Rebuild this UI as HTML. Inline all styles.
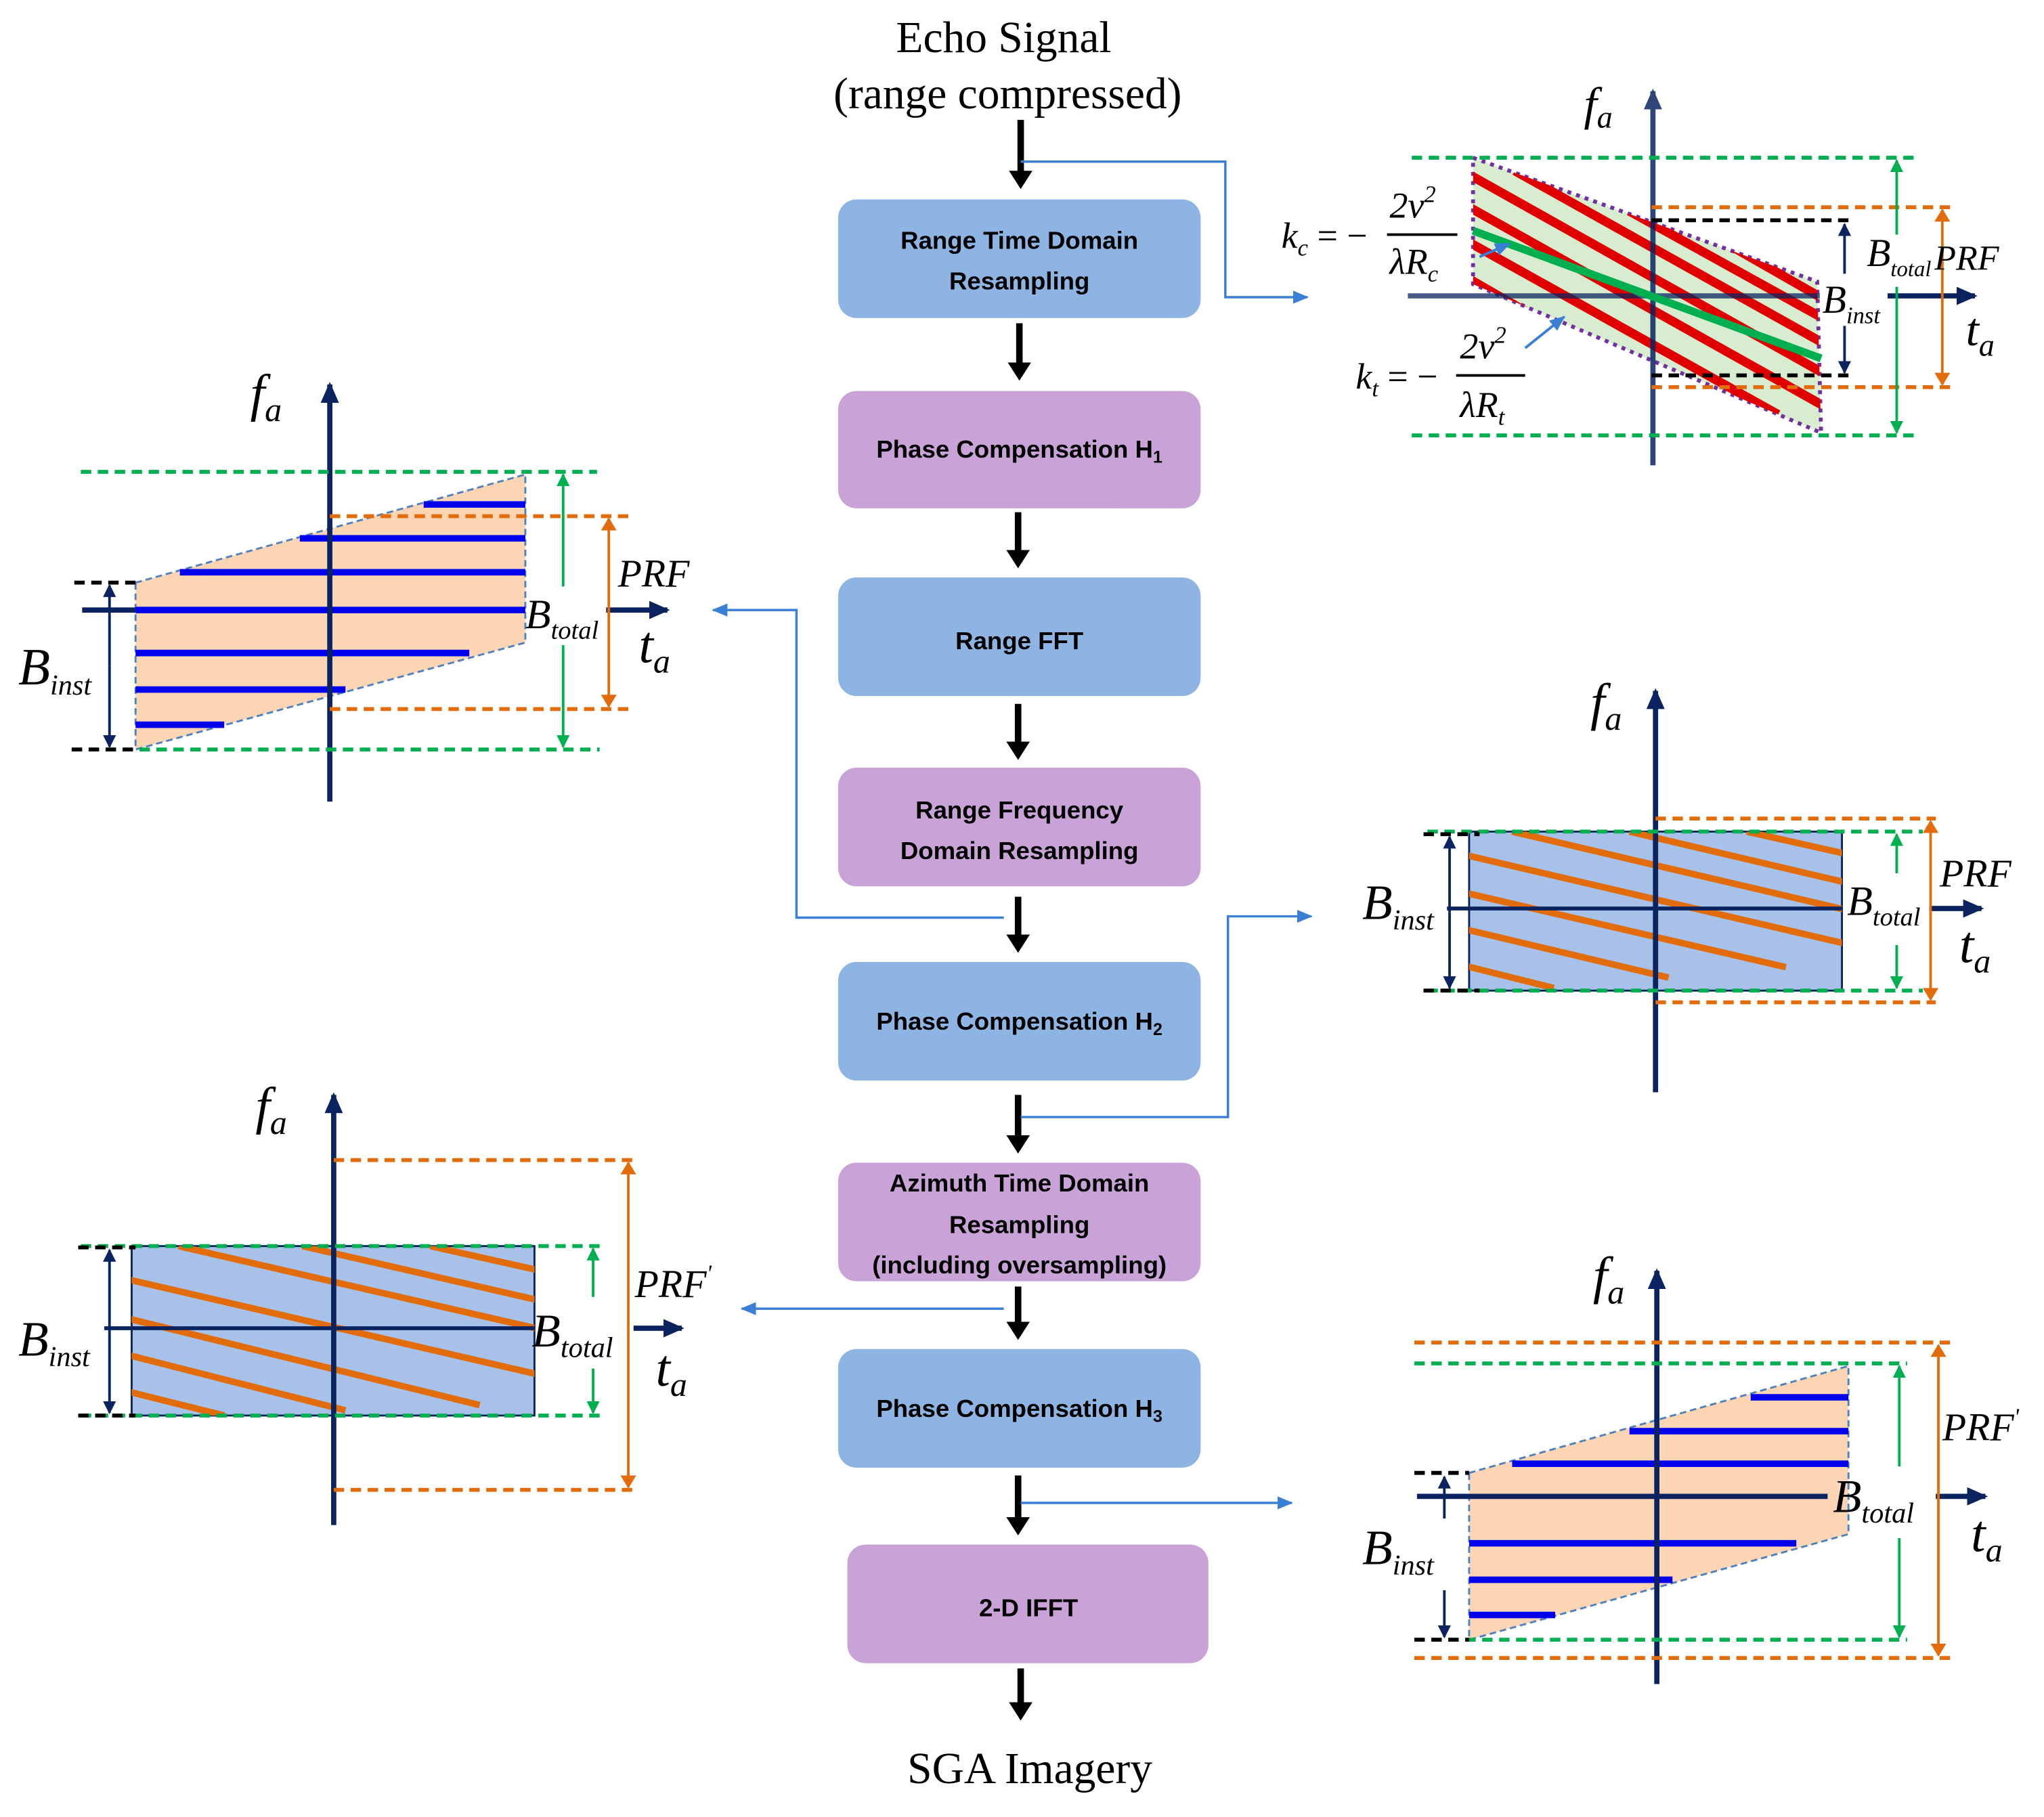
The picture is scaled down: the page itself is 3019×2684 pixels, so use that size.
<!DOCTYPE html>
<html><head><meta charset="utf-8"><style>
html,body{margin:0;padding:0;background:#fff}
svg{display:block}
.bt{font-family:"Liberation Sans",sans-serif;font-weight:bold;font-size:19px;fill:#000;text-anchor:middle}
.lb{font-family:"Liberation Serif",serif;font-style:italic;fill:#000}
.tt{font-family:"Liberation Serif",serif;font-size:34px;fill:#000;text-anchor:middle}
</style></head><body>
<svg width="3019" height="2684" viewBox="0 0 1568 1394" xmlns="http://www.w3.org/2000/svg">
<defs>
<marker id="abl" markerWidth="12" markerHeight="10" refX="11" refY="5" orient="auto" markerUnits="userSpaceOnUse"><path d="M0,0L12,5L0,10z" fill="#3a7fd5"/></marker>
<marker id="an" markerWidth="16" markerHeight="14" refX="14" refY="7" orient="auto" markerUnits="userSpaceOnUse"><path d="M0,0L16,7L0,14z" fill="#0b2460"/></marker>
<marker id="asn" markerWidth="10" markerHeight="10" refX="9" refY="5" orient="auto" markerUnits="userSpaceOnUse"><path d="M0,0L10,5L0,10z" fill="#0b2460"/></marker>
<marker id="ag" markerWidth="10" markerHeight="10" refX="9" refY="5" orient="auto" markerUnits="userSpaceOnUse"><path d="M0,0L10,5L0,10z" fill="#00b050"/></marker>
<marker id="ao" markerWidth="10" markerHeight="12" refX="9" refY="6" orient="auto" markerUnits="userSpaceOnUse"><path d="M0,0L10,6L0,12z" fill="#e36c0a"/></marker>
<marker id="ak" markerWidth="24" markerHeight="18" refX="4" refY="9" orient="auto" markerUnits="userSpaceOnUse"><path d="M0,0L14,9L0,18z" fill="#000"/></marker>
<clipPath id="c1"><polygon points="1130,121 1394,216 1397,332 1130,218"/></clipPath>
<clipPath id="c2"><rect x="1127" y="638" width="286" height="122"/></clipPath>
<clipPath id="c3"><rect x="101" y="956" width="309" height="130"/></clipPath>
</defs>

<text class="tt" x="770" y="40">Echo Signal</text>
<text class="tt" x="773" y="83">(range compressed)</text>
<text class="tt" x="790" y="1368">SGA Imagery</text>

<g>
<rect x="643" y="153" width="278" height="91" rx="14" fill="#8db4e2"/>
<text class="bt" x="782" y="191">Range Time Domain</text><text class="bt" x="782" y="222">Resampling</text>
<rect x="643" y="300" width="278" height="90" rx="14" fill="#c9a3d8"/>
<text class="bt" x="782" y="351">Phase Compensation H<tspan font-size="13" dy="4">1</tspan></text>
<rect x="643" y="443" width="278" height="91" rx="14" fill="#8db4e2"/>
<text class="bt" x="782" y="498" font-size="24">Range FFT</text>
<rect x="643" y="589" width="278" height="91" rx="14" fill="#c9a3d8"/>
<text class="bt" x="782" y="628">Range Frequency</text><text class="bt" x="782" y="659">Domain Resampling</text>
<rect x="643" y="738" width="278" height="91" rx="14" fill="#8db4e2"/>
<text class="bt" x="782" y="790">Phase Compensation H<tspan font-size="13" dy="4">2</tspan></text>
<rect x="643" y="892" width="278" height="91" rx="14" fill="#c9a3d8"/>
<text class="bt" x="782" y="914">Azimuth Time Domain</text><text class="bt" x="782" y="946">Resampling</text><text class="bt" x="782" y="977">(including oversampling)</text>
<rect x="643" y="1035" width="278" height="91" rx="14" fill="#8db4e2"/>
<text class="bt" x="782" y="1087">Phase Compensation H<tspan font-size="13" dy="4">3</tspan></text>
<rect x="650" y="1185" width="277" height="91" rx="14" fill="#c9a3d8"/>
<text class="bt" x="789" y="1240" font-size="24">2-D IFFT</text>
</g>

<g stroke="#000" stroke-width="5" marker-end="url(#ak)">
<line x1="783" y1="92" x2="783" y2="135"/>
<line x1="782" y1="248" x2="782" y2="282"/>
<line x1="781" y1="393" x2="781" y2="426"/>
<line x1="781" y1="540" x2="781" y2="573"/>
<line x1="781" y1="688" x2="781" y2="721"/>
<line x1="781" y1="840" x2="781" y2="875"/>
<line x1="781" y1="987" x2="781" y2="1018"/>
<line x1="781" y1="1132" x2="781" y2="1168"/>
<line x1="783" y1="1280" x2="783" y2="1310"/>
</g>

<g stroke="#3a7fd5" stroke-width="1.8" fill="none">
<polyline points="783,124 940,124 940,228 1003,228" marker-end="url(#abl)"/>
<polyline points="770,704 611,704 611,468 547,468" marker-end="url(#abl)"/>
<polyline points="783,857 942,857 942,703 1006,703" marker-end="url(#abl)"/>
<polyline points="770,1004 569,1004" marker-end="url(#abl)"/>
<polyline points="783,1153 991,1153" marker-end="url(#abl)"/>
</g>

<g>
<polygon points="1130,121 1394,216 1397,332 1130,218" fill="#d8ecd0" stroke="#7030a0" stroke-width="3" stroke-dasharray="3,4"/>
<g clip-path="url(#c1)" stroke="#e00000" stroke-width="7">
<line x1="1162" y1="131" x2="1400" y2="264"/>
<line x1="1120" y1="130" x2="1400" y2="287"/>
<line x1="1120" y1="155" x2="1400" y2="312"/>
<line x1="1120" y1="182" x2="1364" y2="318"/>
<line x1="1120" y1="210" x2="1200" y2="256"/>
<line x1="1250" y1="162" x2="1400" y2="245"/>
<line x1="1330" y1="190" x2="1400" y2="230"/>
</g>
<line x1="1080" y1="227" x2="1396" y2="227" stroke="#0b2460" stroke-width="4" opacity="0.75"/>
<line x1="1448" y1="227" x2="1515" y2="227" stroke="#0b2460" stroke-width="4" marker-end="url(#an)"/>
<line x1="1268" y1="357" x2="1268" y2="70" stroke="#0b2460" stroke-width="4" marker-end="url(#an)" opacity="0.85"/>
<line x1="1130" y1="177" x2="1397" y2="275" stroke="#00b050" stroke-width="6"/>
<g stroke-dasharray="8,5" stroke-width="3" fill="none">
<line x1="1083" y1="121" x2="1470" y2="121" stroke="#00b050"/>
<line x1="1083" y1="334" x2="1470" y2="334" stroke="#00b050"/>
<line x1="1267" y1="159" x2="1497" y2="159" stroke="#e36c0a"/>
<line x1="1267" y1="297" x2="1497" y2="297" stroke="#e36c0a"/>
<line x1="1267" y1="169" x2="1418" y2="169" stroke="#000"/>
<line x1="1267" y1="288" x2="1418" y2="288" stroke="#000"/>
</g>
<line x1="1415" y1="210" x2="1415" y2="172" stroke="#0b2460" stroke-width="2" marker-end="url(#asn)"/>
<line x1="1415" y1="250" x2="1415" y2="286" stroke="#0b2460" stroke-width="2" marker-end="url(#asn)"/>
<line x1="1455" y1="180" x2="1455" y2="123" stroke="#00b050" stroke-width="2" marker-end="url(#ag)"/>
<line x1="1455" y1="220" x2="1455" y2="332" stroke="#00b050" stroke-width="2" marker-end="url(#ag)"/>
<line x1="1490" y1="228" x2="1490" y2="161" stroke="#e36c0a" stroke-width="2" marker-end="url(#ao)"/>
<line x1="1490" y1="228" x2="1490" y2="295" stroke="#e36c0a" stroke-width="2" marker-end="url(#ao)"/>
<line x1="1135" y1="197" x2="1158" y2="187" stroke="#3a7fd5" stroke-width="2" marker-end="url(#abl)"/>
<line x1="1170" y1="267" x2="1200" y2="243" stroke="#3a7fd5" stroke-width="2" marker-end="url(#abl)"/>
<text class="lb" x="1215" y="92" font-size="36">f<tspan font-size="24" dy="6">a</tspan></text>
<text class="lb" x="1432" y="204" font-size="30">B<tspan font-size="17" dy="8">total</tspan></text>
<text class="lb" x="1484" y="207" font-size="27">PRF</text>
<text class="lb" x="1398" y="240" font-size="30">B<tspan font-size="18" dy="8">inst</tspan></text>
<text class="lb" x="1508" y="265" font-size="36">t<tspan font-size="24" dy="8">a</tspan></text>
<text class="lb" x="983" y="190" font-size="28">k<tspan font-size="18" dy="6">c</tspan><tspan font-style="normal" dy="-6"> = −</tspan></text>
<text class="lb" x="1066" y="167" font-size="28">2v<tspan font-size="18" dy="-12">2</tspan></text>
<line x1="1064" y1="180" x2="1118" y2="180" stroke="#000" stroke-width="2"/>
<text class="lb" x="1066" y="210" font-size="28">λR<tspan font-size="18" dy="6">c</tspan></text>
<text class="lb" x="1040" y="298" font-size="28">k<tspan font-size="18" dy="6">t</tspan><tspan font-style="normal" dy="-6"> = −</tspan></text>
<text class="lb" x="1120" y="275" font-size="28">2v<tspan font-size="18" dy="-12">2</tspan></text>
<line x1="1117" y1="288" x2="1170" y2="288" stroke="#000" stroke-width="2"/>
<text class="lb" x="1120" y="320" font-size="28">λR<tspan font-size="18" dy="6">t</tspan></text>
</g>

<g>
<polygon points="104,447 403,364 403,493 104,575" fill="#fcd5b5" stroke="#4f81bd" stroke-width="1.5" stroke-dasharray="5,3"/>
<g stroke="#0000ee" stroke-width="5">
<line x1="325" y1="387" x2="403" y2="387"/>
<line x1="230" y1="413" x2="403" y2="413"/>
<line x1="138" y1="439" x2="403" y2="439"/>
<line x1="104" y1="468" x2="403" y2="468"/>
<line x1="104" y1="501" x2="360" y2="501"/>
<line x1="104" y1="529" x2="265" y2="529"/>
<line x1="104" y1="556" x2="172" y2="556"/>
</g>
<line x1="63" y1="468" x2="104" y2="468" stroke="#0b2460" stroke-width="4"/>
<line x1="465" y1="468" x2="512" y2="468" stroke="#0b2460" stroke-width="4" marker-end="url(#an)"/>
<line x1="253" y1="615" x2="253" y2="295" stroke="#0b2460" stroke-width="4" marker-end="url(#an)"/>
<g stroke-dasharray="8,5" stroke-width="3">
<line x1="62" y1="362" x2="458" y2="362" stroke="#00b050"/>
<line x1="55" y1="575" x2="460" y2="575" stroke="#00b050"/>
<line x1="253" y1="396" x2="485" y2="396" stroke="#e36c0a"/>
<line x1="253" y1="544" x2="485" y2="544" stroke="#e36c0a"/>
<line x1="57" y1="447" x2="104" y2="447" stroke="#000"/>
<line x1="55" y1="575" x2="104" y2="575" stroke="#000"/>
</g>
<line x1="84" y1="511" x2="84" y2="449" stroke="#0b2460" stroke-width="2" marker-end="url(#asn)"/>
<line x1="84" y1="511" x2="84" y2="573" stroke="#0b2460" stroke-width="2" marker-end="url(#asn)"/>
<line x1="432" y1="450" x2="432" y2="364" stroke="#00b050" stroke-width="2" marker-end="url(#ag)"/>
<line x1="432" y1="495" x2="432" y2="573" stroke="#00b050" stroke-width="2" marker-end="url(#ag)"/>
<line x1="467" y1="470" x2="467" y2="398" stroke="#e36c0a" stroke-width="2" marker-end="url(#ao)"/>
<line x1="467" y1="470" x2="467" y2="542" stroke="#e36c0a" stroke-width="2" marker-end="url(#ao)"/>
<text class="lb" x="192" y="315" font-size="40">f<tspan font-size="26" dy="8">a</tspan></text>
<text class="lb" x="474" y="450" font-size="30">PRF</text>
<text class="lb" x="403" y="482" font-size="32">B<tspan font-size="20" dy="8">total</tspan></text>
<text class="lb" x="490" y="508" font-size="40">t<tspan font-size="26" dy="8">a</tspan></text>
<text class="lb" x="14" y="525" font-size="40">B<tspan font-size="22" dy="8">inst</tspan></text>
</g>

<g>
<rect x="1127" y="638" width="286" height="122" fill="#a7c1e8" stroke="#0b2460" stroke-width="1.5"/>
<g clip-path="url(#c2)" stroke="#e36c0a" stroke-width="5">
<line x1="1340" y1="638" x2="1420" y2="656"/>
<line x1="1250" y1="638" x2="1420" y2="678"/>
<line x1="1160" y1="638" x2="1420" y2="699"/>
<line x1="1120" y1="655" x2="1420" y2="725"/>
<line x1="1120" y1="684" x2="1370" y2="742"/>
<line x1="1120" y1="712" x2="1280" y2="750"/>
<line x1="1120" y1="740" x2="1192" y2="758"/>
</g>
<line x1="1110" y1="697" x2="1413" y2="697" stroke="#0b2460" stroke-width="3"/>
<line x1="1480" y1="697" x2="1520" y2="697" stroke="#0b2460" stroke-width="4" marker-end="url(#an)"/>
<line x1="1270" y1="838" x2="1270" y2="530" stroke="#0b2460" stroke-width="4" marker-end="url(#an)"/>
<g stroke-dasharray="8,5" stroke-width="3">
<line x1="1095" y1="638" x2="1475" y2="638" stroke="#00b050"/>
<line x1="1095" y1="760" x2="1475" y2="760" stroke="#00b050"/>
<line x1="1270" y1="628" x2="1485" y2="628" stroke="#e36c0a"/>
<line x1="1270" y1="769" x2="1485" y2="769" stroke="#e36c0a"/>
<line x1="1092" y1="640" x2="1135" y2="640" stroke="#000"/>
<line x1="1092" y1="760" x2="1135" y2="760" stroke="#000"/>
</g>
<line x1="1112" y1="700" x2="1112" y2="642" stroke="#0b2460" stroke-width="2" marker-end="url(#asn)"/>
<line x1="1112" y1="700" x2="1112" y2="758" stroke="#0b2460" stroke-width="2" marker-end="url(#asn)"/>
<line x1="1455" y1="670" x2="1455" y2="640" stroke="#00b050" stroke-width="2" marker-end="url(#ag)"/>
<line x1="1455" y1="725" x2="1455" y2="758" stroke="#00b050" stroke-width="2" marker-end="url(#ag)"/>
<line x1="1481" y1="700" x2="1481" y2="630" stroke="#e36c0a" stroke-width="2" marker-end="url(#ao)"/>
<line x1="1481" y1="700" x2="1481" y2="767" stroke="#e36c0a" stroke-width="2" marker-end="url(#ao)"/>
<text class="lb" x="1220" y="552" font-size="40">f<tspan font-size="26" dy="8">a</tspan></text>
<text class="lb" x="1045" y="705" font-size="38">B<tspan font-size="22" dy="8">inst</tspan></text>
<text class="lb" x="1417" y="702" font-size="32">B<tspan font-size="20" dy="8">total</tspan></text>
<text class="lb" x="1488" y="680" font-size="30">PRF</text>
<text class="lb" x="1503" y="738" font-size="40">t<tspan font-size="26" dy="8">a</tspan></text>
</g>

<g>
<rect x="101" y="956" width="309" height="130" fill="#a7c1e8" stroke="#0b2460" stroke-width="1.5"/>
<g clip-path="url(#c3)" stroke="#e36c0a" stroke-width="5">
<line x1="330" y1="956" x2="415" y2="975"/>
<line x1="232" y1="956" x2="415" y2="998"/>
<line x1="137" y1="956" x2="415" y2="1020"/>
<line x1="100" y1="982" x2="415" y2="1055"/>
<line x1="100" y1="1012" x2="368" y2="1078"/>
<line x1="100" y1="1040" x2="265" y2="1082"/>
<line x1="100" y1="1068" x2="172" y2="1086"/>
</g>
<line x1="80" y1="1019" x2="410" y2="1019" stroke="#0b2460" stroke-width="3"/>
<line x1="486" y1="1019" x2="523" y2="1019" stroke="#0b2460" stroke-width="4" marker-end="url(#an)"/>
<line x1="256" y1="1170" x2="256" y2="840" stroke="#0b2460" stroke-width="4" marker-end="url(#an)"/>
<g stroke-dasharray="8,5" stroke-width="3">
<line x1="62" y1="956" x2="460" y2="956" stroke="#00b050"/>
<line x1="62" y1="1086" x2="460" y2="1086" stroke="#00b050"/>
<line x1="256" y1="890" x2="486" y2="890" stroke="#e36c0a"/>
<line x1="256" y1="1143" x2="486" y2="1143" stroke="#e36c0a"/>
<line x1="60" y1="957" x2="104" y2="957" stroke="#000"/>
<line x1="60" y1="1086" x2="104" y2="1086" stroke="#000"/>
</g>
<line x1="84" y1="1020" x2="84" y2="959" stroke="#0b2460" stroke-width="2" marker-end="url(#asn)"/>
<line x1="84" y1="1020" x2="84" y2="1084" stroke="#0b2460" stroke-width="2" marker-end="url(#asn)"/>
<line x1="455" y1="995" x2="455" y2="958" stroke="#00b050" stroke-width="2" marker-end="url(#ag)"/>
<line x1="455" y1="1050" x2="455" y2="1084" stroke="#00b050" stroke-width="2" marker-end="url(#ag)"/>
<line x1="482" y1="1019" x2="482" y2="892" stroke="#e36c0a" stroke-width="2" marker-end="url(#ao)"/>
<line x1="482" y1="1019" x2="482" y2="1141" stroke="#e36c0a" stroke-width="2" marker-end="url(#ao)"/>
<text class="lb" x="196" y="862" font-size="40">f<tspan font-size="26" dy="8">a</tspan></text>
<text class="lb" x="14" y="1040" font-size="38">B<tspan font-size="22" dy="8">inst</tspan></text>
<text class="lb" x="408" y="1033" font-size="36">B<tspan font-size="22" dy="8">total</tspan></text>
<text class="lb" x="487" y="995" font-size="30">PRF<tspan font-size="18" dy="-12">'</tspan></text>
<text class="lb" x="503" y="1063" font-size="40">t<tspan font-size="26" dy="8">a</tspan></text>
</g>

<g>
<polygon points="1127,1130 1418,1048 1418,1177 1127,1258" fill="#fcd5b5" stroke="#4f81bd" stroke-width="1.5" stroke-dasharray="5,3"/>
<g stroke="#0000ee" stroke-width="5">
<line x1="1343" y1="1072" x2="1418" y2="1072"/>
<line x1="1250" y1="1098" x2="1418" y2="1098"/>
<line x1="1160" y1="1123" x2="1418" y2="1123"/>
<line x1="1127" y1="1184" x2="1378" y2="1184"/>
<line x1="1127" y1="1212" x2="1283" y2="1212"/>
<line x1="1127" y1="1239" x2="1193" y2="1239"/>
</g>
<line x1="1087" y1="1148" x2="1402" y2="1148" stroke="#0b2460" stroke-width="4"/>
<line x1="1485" y1="1148" x2="1523" y2="1148" stroke="#0b2460" stroke-width="4" marker-end="url(#an)"/>
<line x1="1271" y1="1292" x2="1271" y2="975" stroke="#0b2460" stroke-width="4" marker-end="url(#an)"/>
<g stroke-dasharray="8,5" stroke-width="3">
<line x1="1085" y1="1046" x2="1463" y2="1046" stroke="#00b050"/>
<line x1="1085" y1="1258" x2="1463" y2="1258" stroke="#00b050"/>
<line x1="1085" y1="1030" x2="1497" y2="1030" stroke="#e36c0a"/>
<line x1="1085" y1="1272" x2="1497" y2="1272" stroke="#e36c0a"/>
<line x1="1085" y1="1130" x2="1127" y2="1130" stroke="#000"/>
<line x1="1085" y1="1258" x2="1127" y2="1258" stroke="#000"/>
</g>
<line x1="1108" y1="1165" x2="1108" y2="1133" stroke="#0b2460" stroke-width="2" marker-end="url(#asn)"/>
<line x1="1108" y1="1220" x2="1108" y2="1256" stroke="#0b2460" stroke-width="2" marker-end="url(#asn)"/>
<line x1="1457" y1="1125" x2="1457" y2="1048" stroke="#00b050" stroke-width="2" marker-end="url(#ag)"/>
<line x1="1457" y1="1180" x2="1457" y2="1256" stroke="#00b050" stroke-width="2" marker-end="url(#ag)"/>
<line x1="1487" y1="1150" x2="1487" y2="1032" stroke="#e36c0a" stroke-width="2" marker-end="url(#ao)"/>
<line x1="1487" y1="1150" x2="1487" y2="1270" stroke="#e36c0a" stroke-width="2" marker-end="url(#ao)"/>
<text class="lb" x="1222" y="992" font-size="40">f<tspan font-size="26" dy="8">a</tspan></text>
<text class="lb" x="1490" y="1105" font-size="30">PRF<tspan font-size="18" dy="-12">'</tspan></text>
<text class="lb" x="1406" y="1160" font-size="36">B<tspan font-size="22" dy="8">total</tspan></text>
<text class="lb" x="1512" y="1190" font-size="40">t<tspan font-size="26" dy="8">a</tspan></text>
<text class="lb" x="1045" y="1200" font-size="38">B<tspan font-size="22" dy="8">inst</tspan></text>
</g>
</svg>
</body></html>
